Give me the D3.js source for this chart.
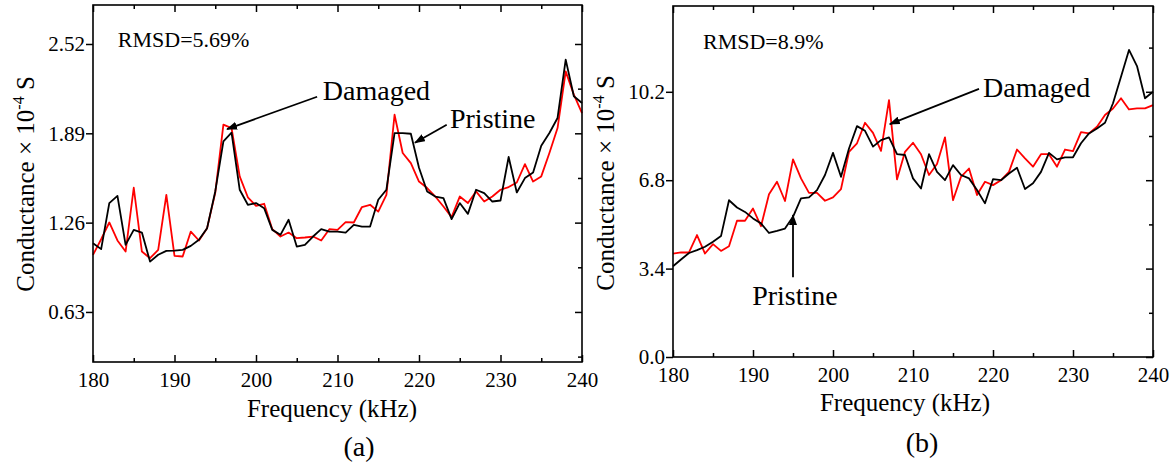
<!DOCTYPE html>
<html>
<head>
<meta charset="utf-8">
<script src="https://cdn.jsdelivr.net/npm/d3@7/dist/d3.min.js"></script>
<style>
  body { margin: 0; background: #fff; }
  svg { display: block; font-family: "Liberation Serif", "Times New Roman", serif; }
</style>
</head>
<body>
<div id="chart"></div>
<script>
const globalWidth = 1174;
const globalHeight = 463;

const redColor = "#ff0000";
const blackColor = "#000000";

// frequency axis shared by both panels (kHz, 1 kHz steps)
const freqs = d3.range(180, 241, 1);
const xTicks = [180, 190, 200, 210, 220, 230, 240];
const xMinorTicks = [185, 195, 205, 215, 225, 235];

// panel (a) conductance x 10^-4 S
const pristineA = [1.115, 1.073, 1.398, 1.449, 1.103, 1.209, 1.190, 0.985, 1.033, 1.061,
  1.063, 1.068, 1.096, 1.139, 1.221, 1.480, 1.833, 1.895, 1.492, 1.386,
  1.398, 1.362, 1.209, 1.174, 1.280, 1.091, 1.103, 1.162, 1.214, 1.197,
  1.197, 1.190, 1.244, 1.232, 1.232, 1.421, 1.492, 1.892, 1.892, 1.887,
  1.647, 1.480, 1.444, 1.433, 1.285, 1.398, 1.322, 1.492, 1.468, 1.409,
  1.416, 1.723, 1.473, 1.574, 1.614, 1.802, 1.892, 1.998, 2.410, 2.151,
  2.104];
const damagedA = [1.033, 1.143, 1.261, 1.134, 1.056, 1.506, 1.056, 1.009, 1.068, 1.456,
  1.026, 1.021, 1.197, 1.134, 1.221, 1.470, 1.951, 1.927, 1.586, 1.439,
  1.379, 1.393, 1.214, 1.162, 1.190, 1.150, 1.155, 1.162, 1.134, 1.214,
  1.209, 1.264, 1.261, 1.370, 1.386, 1.338, 1.456, 2.021, 1.751, 1.680,
  1.550, 1.504, 1.444, 1.374, 1.299, 1.444, 1.398, 1.480, 1.409, 1.444,
  1.492, 1.511, 1.543, 1.673, 1.550, 1.586, 1.751, 1.927, 2.327, 2.163,
  2.033];
const yTicksA = [0.63, 1.26, 1.89, 2.52];
const yMinorTicksA = [0.315, 0.945, 1.575, 2.205];

// panel (b) conductance x 10^-4 S
const pristineB = [3.49, 3.75, 4.00, 4.11, 4.24, 4.43, 4.65, 6.03, 5.75, 5.58,
  5.33, 5.14, 4.77, 4.85, 4.94, 5.39, 6.10, 6.14, 6.42, 7.00,
  7.85, 6.93, 8.02, 8.88, 8.70, 8.09, 8.34, 8.45, 7.80, 7.77,
  6.87, 6.48, 7.80, 7.12, 6.80, 7.38, 7.00, 6.87, 6.42, 5.91,
  6.84, 6.80, 7.06, 7.28, 6.46, 6.68, 7.12, 7.85, 7.60, 7.68,
  7.68, 8.22, 8.60, 8.79, 9.01, 9.76, 10.78, 11.81, 11.19, 9.95,
  10.20];
const damagedB = [3.98, 4.02, 4.02, 4.69, 3.98, 4.34, 4.08, 4.26, 5.24, 5.24,
  5.71, 5.03, 6.26, 6.74, 6.00, 7.60, 6.87, 6.31, 6.31, 6.01,
  6.14, 6.46, 7.89, 8.22, 9.01, 8.62, 7.93, 9.88, 6.83, 7.89,
  8.24, 7.80, 7.00, 7.42, 8.45, 6.03, 6.93, 7.25, 6.23, 6.74,
  6.61, 6.80, 7.12, 7.98, 7.64, 7.32, 7.80, 7.80, 7.32, 7.98,
  7.92, 8.65, 8.60, 8.86, 9.31, 9.56, 9.95, 9.52, 9.56, 9.56,
  9.69];
const yTicksB = [0.0, 3.4, 6.8, 10.2];
const yMinorTicksB = [1.7, 5.1, 8.5, 11.9];

const svg = d3.select("#chart")
  .append("svg")
  .attr("width", globalWidth)
  .attr("height", globalHeight);

svg.append("rect")
  .attr("width", globalWidth)
  .attr("height", globalHeight)
  .attr("fill", "#fff");

// arrow head
svg.append("defs").append("marker")
  .attr("id", "arrow")
  .attr("markerUnits", "userSpaceOnUse")
  .attr("markerWidth", 11)
  .attr("markerHeight", 8)
  .attr("refX", 10)
  .attr("refY", 4)
  .attr("orient", "auto")
  .append("path")
    .attr("d", "M0,0 L11,4 L0,8 Z")
    .attr("fill", "#000");

function drawPanel(p) {
  var x = d3.scaleLinear().domain([180, 240]).range([p.left, p.right]);
  var y = d3.scaleLinear().domain(p.yDomain).range([p.bottom, p.top]);

  var g = svg.append("g");

  // data lines, red first so black sits on top
  var line = d3.line()
    .x(function(d, i) { return x(freqs[i]); })
    .y(function(d) { return y(d); });

  g.append("path")
    .datum(p.damaged)
    .attr("fill", "none")
    .attr("stroke", redColor)
    .attr("stroke-width", 1.8)
    .attr("stroke-linejoin", "round")
    .attr("d", line);

  g.append("path")
    .datum(p.pristine)
    .attr("fill", "none")
    .attr("stroke", blackColor)
    .attr("stroke-width", 1.8)
    .attr("stroke-linejoin", "round")
    .attr("d", line);

  // bottom axis with labels, ticks pointing in
  g.append("g")
    .attr("transform", "translate(0," + p.bottom + ")")
    .call(d3.axisBottom(x).tickValues(xTicks).tickSizeInner(-7).tickSizeOuter(0).tickPadding(10));
  g.append("g")
    .attr("transform", "translate(0," + p.bottom + ")")
    .call(d3.axisBottom(x).tickValues(xMinorTicks).tickSizeInner(-4).tickSizeOuter(0).tickFormat(""));

  // top axis
  g.append("g")
    .attr("transform", "translate(0," + p.top + ")")
    .call(d3.axisTop(x).tickValues(xTicks).tickSizeInner(-7).tickSizeOuter(0).tickFormat(""));
  g.append("g")
    .attr("transform", "translate(0," + p.top + ")")
    .call(d3.axisTop(x).tickValues(xMinorTicks).tickSizeInner(-4).tickSizeOuter(0).tickFormat(""));

  // left axis: ticks outward with labels
  g.append("g")
    .attr("transform", "translate(" + p.left + ",0)")
    .call(d3.axisLeft(y).tickValues(p.yTicks).tickSizeInner(7).tickSizeOuter(0).tickPadding(1)
      .tickFormat(d3.format(p.yFormat)));

  // right axis: major + minor inward
  g.append("g")
    .attr("transform", "translate(" + p.right + ",0)")
    .call(d3.axisRight(y).tickValues(p.yTicks).tickSizeInner(-7).tickSizeOuter(0).tickFormat(""));
  g.append("g")
    .attr("transform", "translate(" + p.right + ",0)")
    .call(d3.axisRight(y).tickValues(p.yMinor).tickSizeInner(-4).tickSizeOuter(0).tickFormat(""));

  g.selectAll(".domain").remove();
  g.selectAll(".tick line").attr("stroke", "#000").attr("stroke-width", 1.5);
  g.selectAll(".tick text")
    .attr("fill", "#000")
    .style("font-family", "'Liberation Serif', 'Times New Roman', serif")
    .style("font-size", "21px");

  // frame
  g.append("rect")
    .attr("x", p.left)
    .attr("y", p.top)
    .attr("width", p.right - p.left)
    .attr("height", p.bottom - p.top)
    .attr("fill", "none")
    .attr("stroke", "#000")
    .attr("stroke-width", 1.6);

  // RMSD text
  g.append("text")
    .attr("x", x(p.rmsdAt[0]))
    .attr("y", y(p.rmsdAt[1]))
    .style("font-size", "22px")
    .text(p.rmsd);

  // annotations
  p.notes.forEach(function(n) {
    g.append("line")
      .attr("x1", x(n.from[0]))
      .attr("y1", y(n.from[1]))
      .attr("x2", x(n.to[0]))
      .attr("y2", y(n.to[1]))
      .attr("stroke", "#000")
      .attr("stroke-width", 1.8)
      .attr("marker-end", "url(#arrow)");
    g.append("text")
      .attr("x", x(n.textAt[0]))
      .attr("y", y(n.textAt[1]))
      .style("font-size", "28px")
      .text(n.label);
  });

  // x axis title
  g.append("text")
    .attr("x", p.xTitle[0])
    .attr("y", p.xTitle[1])
    .attr("text-anchor", "middle")
    .style("font-size", "25px")
    .text("Frequency (kHz)");

  // panel letter
  g.append("text")
    .attr("x", p.letterAt[0])
    .attr("y", p.letterAt[1])
    .attr("text-anchor", "middle")
    .style("font-size", "28px")
    .text(p.letter);

  // y axis title
  var yt = g.append("text")
    .attr("transform", "translate(" + p.yTitle[0] + "," + p.yTitle[1] + ") rotate(-90)")
    .attr("text-anchor", "middle")
    .style("font-size", "25px");
  yt.append("tspan").text("Conductance \u00d7 10");
  yt.append("tspan").attr("dy", -10).style("font-size", "16px").text("-4");
  yt.append("tspan").attr("dy", 10).text(" S");
}

drawPanel({
  left: 93, right: 582, top: 5, bottom: 362,
  yDomain: [0.277, 2.795],
  yTicks: yTicksA, yMinor: yMinorTicksA, yFormat: ".2f",
  pristine: pristineA, damaged: damagedA,
  rmsd: "RMSD=5.69%", rmsdAt: [183.05, 2.50],
  notes: [
    { label: "Damaged", from: [207.5, 2.148], to: [196.45, 1.92], textAt: [208.2, 2.126] },
    { label: "Pristine", from: [223.4, 1.951], to: [219.5, 1.824], textAt: [223.8, 1.93] }
  ],
  xTitle: [332, 417], letterAt: [359, 456], letter: "(a)",
  yTitle: [34, 184]
});

drawPanel({
  left: 673, right: 1153, top: 6, bottom: 357,
  yDomain: [0, 13.5],
  yTicks: yTicksB, yMinor: yMinorTicksB, yFormat: ".1f",
  pristine: pristineB, damaged: damagedB,
  rmsd: "RMSD=8.9%", rmsdAt: [183.75, 11.85],
  notes: [
    { label: "Damaged", from: [218.25, 10.31], to: [207.1, 8.96], textAt: [218.75, 10.0] },
    { label: "Pristine", from: [195, 3.07], to: [195, 5.46], textAt: [189.9, 1.99] }
  ],
  xTitle: [905, 411], letterAt: [922, 452], letter: "(b)",
  yTitle: [614, 183]
});
</script>
</body>
</html>
